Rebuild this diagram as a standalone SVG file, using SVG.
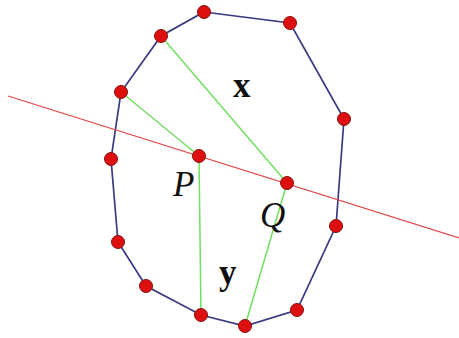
<svg xmlns="http://www.w3.org/2000/svg" width="459" height="338" viewBox="0 0 459 338">
<style>
.edge{fill:none;stroke:#3a3a80;stroke-width:1.7}
.red{stroke:#e04848;stroke-width:1.3}
.grn{stroke:#70e060;stroke-width:1.5}
.pt{fill:#dd0f0f;stroke:#8a1010;stroke-width:1}
.lb{font-family:"Liberation Serif",serif;font-size:35px;fill:#111}
.b{font-weight:bold}
.i{font-style:italic}
</style>
<rect width="459" height="338" fill="#fff"/>
<g id="connectors">
<polygon class="edge" points="204,12 290,23 344,119 336,226 297,310 245,326 201,315 146,286 118,242 111,159 121,92 161,36"/>
<line class="red" x1="8" y1="96" x2="459" y2="238"/>
<line class="grn" x1="161" y1="36" x2="287" y2="183"/>
<line class="grn" x1="121" y1="92" x2="199" y2="156"/>
<line class="grn" x1="199" y1="156" x2="201" y2="315"/>
<line class="grn" x1="287" y1="183" x2="245" y2="326"/>
</g>
<g id="v1"><circle class="pt" cx="204" cy="12" r="6.5"/></g>
<g id="v2"><circle class="pt" cx="290" cy="23" r="6.5"/></g>
<g id="v3"><circle class="pt" cx="344" cy="119" r="6.5"/></g>
<g id="v4"><circle class="pt" cx="336" cy="226" r="6.5"/></g>
<g id="v5"><circle class="pt" cx="297" cy="310" r="6.5"/></g>
<g id="v6"><circle class="pt" cx="245" cy="326" r="6.5"/></g>
<g id="v7"><circle class="pt" cx="201" cy="315" r="6.5"/></g>
<g id="v8"><circle class="pt" cx="146" cy="286" r="6.5"/></g>
<g id="v9"><circle class="pt" cx="118" cy="242" r="6.5"/></g>
<g id="v10"><circle class="pt" cx="111" cy="159" r="6.5"/></g>
<g id="v11"><circle class="pt" cx="121" cy="92" r="6.5"/></g>
<g id="v12"><circle class="pt" cx="161" cy="36" r="6.5"/></g>
<g id="P"><circle class="pt" cx="199" cy="156" r="6.5"/><text class="lb i" x="173" y="196">P</text></g>
<g id="Q"><circle class="pt" cx="287" cy="183" r="6.5"/><text class="lb i" x="260" y="227">Q</text></g>
<text class="lb b" x="233" y="97">x</text>
<text class="lb b" x="219" y="284">y</text>
</svg>
